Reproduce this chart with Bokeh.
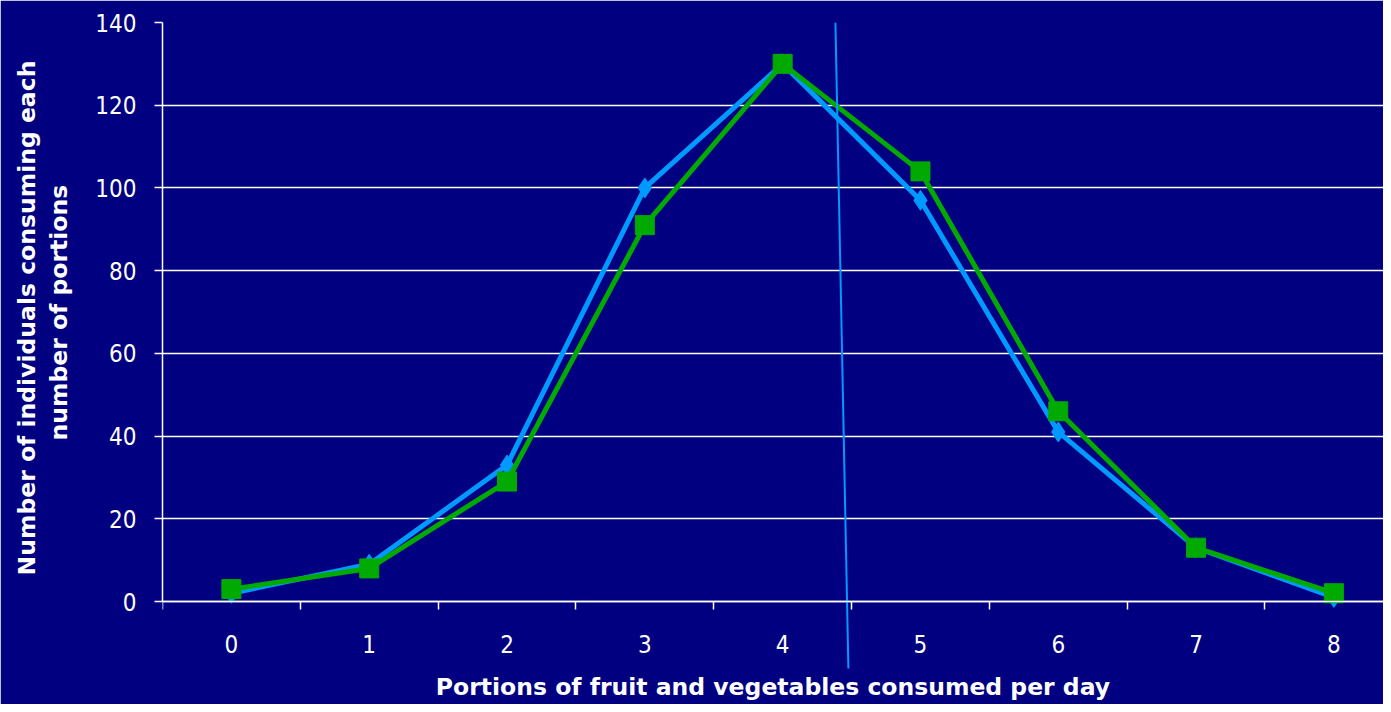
from bokeh.plotting import figure
from bokeh.models import FixedTicker, Range1d, Title
from bokeh.embed import file_html
from bokeh.resources import INLINE

portions = [0, 1, 2, 3, 4, 5, 6, 7, 8]
series_blue = [2, 9, 33, 100, 130, 97, 41, 13, 1]
series_green = [3, 8, 29, 91, 130, 104, 46, 13, 2]
y_ticks = [0, 20, 40, 60, 80, 100, 120, 140]
cut_line_x = [4.383, 4.477]
cut_line_y = [140, -16.2]
x_title = "Portions of fruit and vegetables consumed per day"
y_title_lines = ["Number of individuals consuming each", "number of portions"]

BG = "#000080"
BLUE = "#0099ff"
GREEN = "#00aa00"
TICK_FONT = "DejaVu Sans Condensed, DejaVu Sans"
TITLE_FONT = "DejaVu Sans"

p = figure(width=1383, height=704, output_backend="svg", toolbar_location=None,
           x_range=Range1d(-0.5, 8.36), y_range=Range1d(-16.68, 140),
           min_border_left=162, min_border_right=0, min_border_top=22, min_border_bottom=34)
p.background_fill_color = BG
p.border_fill_color = BG
p.outline_line_color = BG
p.outline_line_width = 2

p.xgrid.grid_line_color = None
p.ygrid.grid_line_color = "white"
p.ygrid.grid_line_width = 1.5
p.ygrid.ticker = FixedTicker(ticks=y_ticks)

p.xaxis.fixed_location = 0
p.xaxis.ticker = FixedTicker(ticks=portions, minor_ticks=[i - 0.5 for i in portions] + [8.5])
p.xaxis.major_tick_out = 0
p.xaxis.major_tick_in = 0
p.xaxis.minor_tick_out = 8
p.xaxis.minor_tick_in = 0
p.xaxis.minor_tick_line_color = "white"
p.xaxis.minor_tick_line_width = 1.5
p.yaxis.ticker = FixedTicker(ticks=y_ticks)
p.yaxis.bounds = (0, 140)
p.yaxis.major_tick_out = 8
p.yaxis.major_tick_in = 0
p.yaxis.minor_tick_line_color = None

for ax in (p.xaxis, p.yaxis):
    ax.axis_line_color = "white"
    ax.axis_line_width = 1.5
    ax.major_tick_line_color = "white"
    ax.major_tick_line_width = 1.5
    ax.major_label_text_color = "white"
    ax.major_label_text_font = TICK_FONT
    ax.major_label_text_font_size = "24px"
p.xaxis.major_label_standoff = 25
p.yaxis.major_label_standoff = 18

def make_title(text, standoff, align="center", offset=0):
    return Title(text=text, align=align, standoff=standoff, offset=offset,
                 text_color="white", text_font=TITLE_FONT, text_font_style="bold",
                 text_font_size="23.5px")

p.add_layout(make_title(x_title, 0), "below")
p.add_layout(make_title(y_title_lines[1], 39, "left", 230), "left")
p.add_layout(make_title(y_title_lines[0], -34, "left", 95), "left")

p.line(portions, series_blue, line_color=BLUE, line_width=5)
p.scatter(portions, series_blue, marker="diamond", size=20, fill_color=BLUE, line_color=BLUE)
p.line(portions, series_green, line_color=GREEN, line_width=5)
p.scatter(portions, series_green, marker="square", size=19, fill_color=GREEN, line_color=GREEN)

p.segment(x0=[cut_line_x[0]], y0=[cut_line_y[0]], x1=[cut_line_x[1]], y1=[cut_line_y[1]],
          line_color=BLUE, line_width=2)

open("out.html", "w").write(file_html(p, INLINE))
